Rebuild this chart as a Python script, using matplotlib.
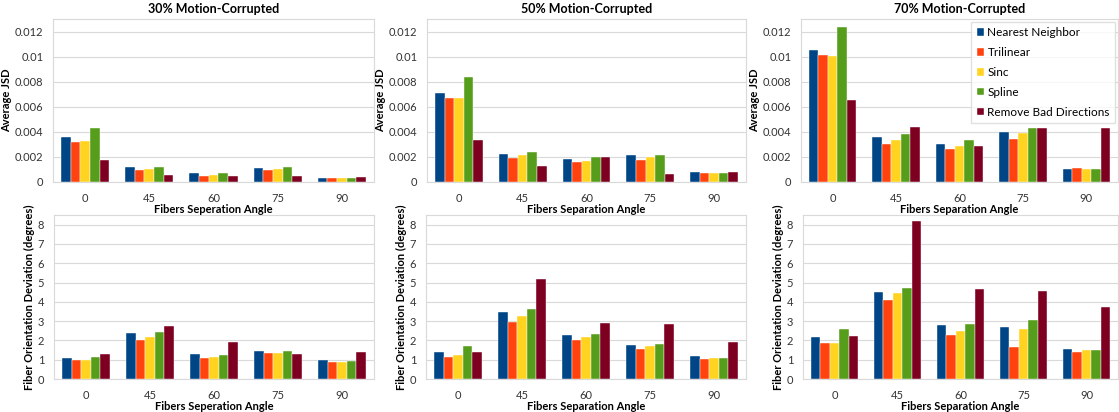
import matplotlib
matplotlib.use("Agg")
import matplotlib.pyplot as plt
import numpy as np

plt.rcParams['font.family'] = ['Lato', 'DejaVu Sans']

angles = ['0', '45', '60', '75', '90']
methods = ['Nearest Neighbor', 'Trilinear', 'Sinc', 'Spline', 'Remove Bad Directions']
colors = ['#004586', '#ff420e', '#ffd320', '#579d1c', '#7e0021']
titles = ['30% Motion-Corrupted', '50% Motion-Corrupted', '70% Motion-Corrupted']

# average JSD, rows = methods, cols = angles
jsd_30 = [[0.00355, 0.00117, 0.00069, 0.00115, 0.00035],
          [0.00317, 0.00093, 0.00051, 0.00093, 0.00030],
          [0.00330, 0.00101, 0.00056, 0.00104, 0.00030],
          [0.00427, 0.00117, 0.00072, 0.00120, 0.00035],
          [0.00179, 0.00059, 0.00045, 0.00045, 0.00043]]
jsd_50 = [[0.00707, 0.00227, 0.00184, 0.00213, 0.00077],
          [0.00667, 0.00195, 0.00157, 0.00179, 0.00072],
          [0.00670, 0.00213, 0.00171, 0.00197, 0.00069],
          [0.00840, 0.00243, 0.00197, 0.00219, 0.00072],
          [0.00333, 0.00125, 0.00197, 0.00064, 0.00083]]
jsd_70 = [[0.01053, 0.00355, 0.00307, 0.00397, 0.00101],
          [0.01013, 0.00301, 0.00267, 0.00341, 0.00112],
          [0.01005, 0.00333, 0.00285, 0.00389, 0.00104],
          [0.01240, 0.00381, 0.00333, 0.00432, 0.00107],
          [0.00653, 0.00440, 0.00291, 0.00432, 0.00432]]

# fiber orientation deviation (degrees)
dev_30 = [[1.09, 2.36, 1.28, 1.44, 1.01],
          [0.99, 2.01, 1.08, 1.34, 0.90],
          [0.99, 2.17, 1.15, 1.37, 0.90],
          [1.16, 2.45, 1.25, 1.44, 0.92],
          [1.28, 2.76, 1.93, 1.30, 1.39]]
dev_50 = [[1.39, 3.49, 2.26, 1.75, 1.20],
          [1.15, 2.97, 2.03, 1.56, 1.04],
          [1.25, 3.26, 2.17, 1.70, 1.08],
          [1.70, 3.61, 2.33, 1.79, 1.09],
          [1.39, 5.19, 2.90, 2.86, 1.93]]
dev_70 = [[2.19, 4.52, 2.80, 2.71, 1.55],
          [1.86, 4.09, 2.28, 1.67, 1.41],
          [1.84, 4.45, 2.47, 2.61, 1.48],
          [2.61, 4.73, 2.83, 3.06, 1.50],
          [2.21, 8.19, 4.68, 4.56, 3.74]]

xlabels_top = ['Fibers Seperation Angle', 'Fibers Separation Angle', 'Fibers Separation Angle']
xlabels_bot = ['Fibers Seperation Angle', 'Fibers Separation Angle', 'Fibers Separation Angle']

W, H = 1119, 412
fig = plt.figure(figsize=(W / 100, H / 100), dpi=100)

def px_axes(x0, y0, x1, y1):
    return fig.add_axes([x0 / W, (H - y1) / H, (x1 - x0) / W, (y1 - y0) / H])

top_boxes = [(53, 19, 374, 182), (427, 19, 746, 182), (801, 19, 1118, 182)]
bot_boxes = [(54, 215, 374, 379), (426, 215, 746, 379), (803, 215, 1118, 379)]

grid_c = '#d9d9d9'
x = np.arange(len(angles))
bw = 0.15

def draw(ax, data, ymax, ticks, ticklabels, ylabel, xlabel):
    for i, (m, c) in enumerate(zip(methods, colors)):
        ax.bar(x + (i - 2) * bw, data[i], bw, color=c, label=m,
               edgecolor='#ffffff', linewidth=0.3, zorder=3)
    ax.set_xlim(-0.5, 4.5)
    ax.set_ylim(0, ymax)
    ax.set_yticks(ticks)
    ax.set_yticklabels(ticklabels, fontsize=8, color='#333333')
    ax.set_xticks(x)
    ax.set_xticklabels(angles, fontsize=8, color='#333333')
    ax.tick_params(length=0, pad=8)
    ax.tick_params(axis='y', pad=7)
    ax.grid(axis='y', color=grid_c, linewidth=0.8, zorder=0)
    for s in ax.spines.values():
        s.set_color(grid_c)
        s.set_linewidth(0.8)
    ax.set_ylabel(ylabel, fontsize=8, fontweight='bold', labelpad=2)
    ax.set_xlabel(xlabel, fontsize=8, fontweight='bold', labelpad=0)

jsd_ticks = [0, 0.002, 0.004, 0.006, 0.008, 0.01, 0.012]
jsd_labels = ['0', '0.002', '0.004', '0.006', '0.008', '0.01', '0.012']
dev_ticks = list(range(9))

axes_top = []
for k, (box, data) in enumerate(zip(top_boxes, [jsd_30, jsd_50, jsd_70])):
    ax = px_axes(*box)
    draw(ax, data, 0.013, jsd_ticks, jsd_labels, 'Average JSD', xlabels_top[k])
    ax.set_title(titles[k], fontsize=9, fontweight='bold', pad=4)
    axes_top.append(ax)

for k, (box, data) in enumerate(zip(bot_boxes, [dev_30, dev_50, dev_70])):
    ax = px_axes(*box)
    draw(ax, data, 8.5, dev_ticks, [str(t) for t in dev_ticks],
         'Fiber Orientation Deviation (degrees)', xlabels_bot[k])

leg = axes_top[2].legend(loc='upper right', bbox_to_anchor=(1.0, 1.0), fontsize=8.5,
                         frameon=True, fancybox=False, edgecolor=grid_c,
                         handlelength=0.6, handleheight=0.6, handletextpad=0.3,
                         labelspacing=0.75, borderpad=0.45, borderaxespad=0.25)
leg.get_frame().set_linewidth(1.0)

fig.savefig('out.png', dpi=100)
